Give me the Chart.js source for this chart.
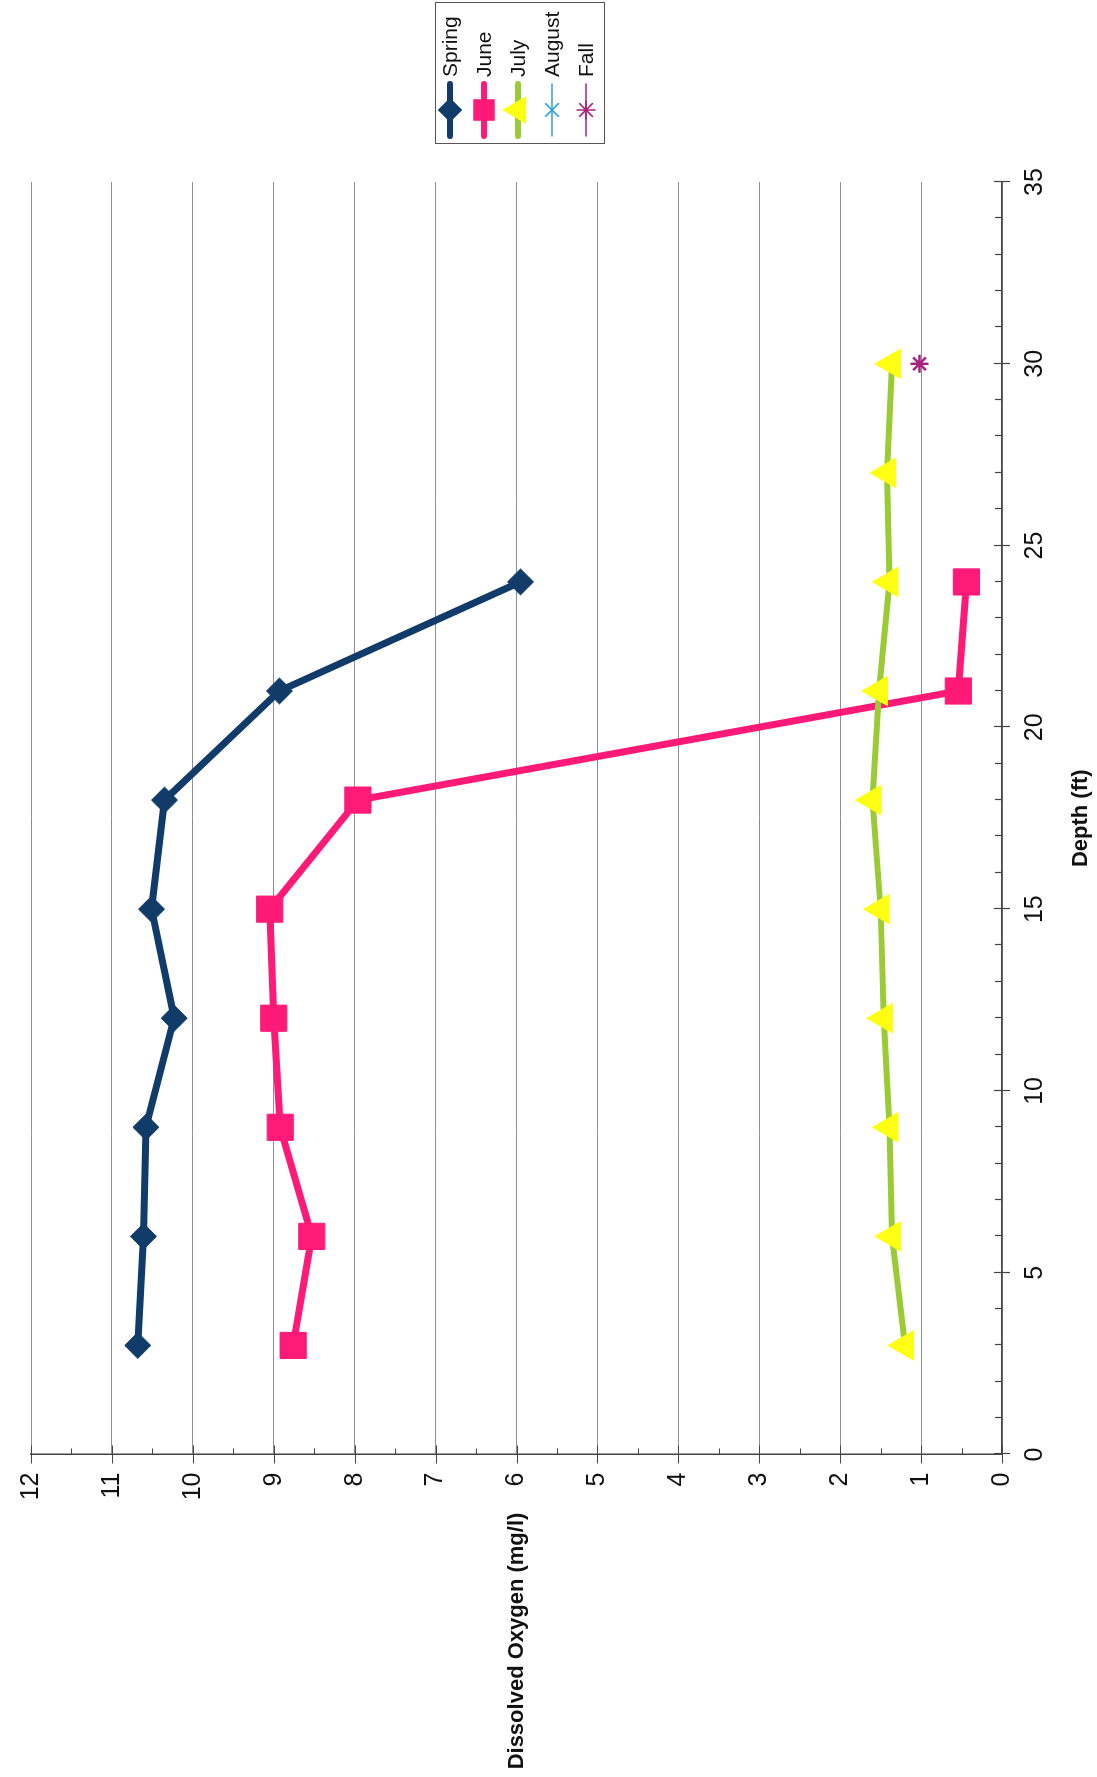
<!DOCTYPE html>
<html>
<head>
<meta charset="utf-8">
<script src="https://cdn.jsdelivr.net/npm/chart.js@4/dist/chart.umd.min.js"></script>
<style>
  html, body { margin: 0; padding: 0; background: #fff; overflow: hidden; }
  body { width: 1097px; height: 1777px; position: relative; }
  /* the scanned chart is turned on its side, so the whole canvas is rotated */
  #wrap {
    position: absolute; left: 0; top: 0;
    width: 1777px; height: 1097px;
    transform-origin: 0 0;
    transform: translateY(1777px) rotate(-90deg);
  }
</style>
</head>
<body>
<div id="wrap"><canvas id="doChart" width="1777" height="1097"></canvas></div>
<script>
// depth (ft) of each sample
const depths = [3, 6, 9, 12, 15, 18, 21, 24, 27, 30];
// dissolved oxygen (mg/l) per season
const springDO = [10.68, 10.61, 10.58, 10.23, 10.51, 10.35, 8.93, 5.95];
const juneDO = [8.76, 8.53, 8.92, 9.0, 9.05, 7.96, 0.54, 0.44];
const julyDO = [1.2, 1.36, 1.39, 1.46, 1.5, 1.6, 1.52, 1.39, 1.42, 1.36];
const augustDO = [];
const fallDepths = [30];
const fallDO = [1.02];

const seriesNames = ['Spring', 'June', 'July', 'August', 'Fall'];
const depthTicks = [0, 5, 10, 15, 20, 25, 30, 35];
const doTicks = [0, 1, 2, 3, 4, 5, 6, 7, 8, 9, 10, 11, 12];

const FONT = '"Liberation Sans", Arial, sans-serif';

function toPoints(xs, ys) {
    return ys.map(function(v, i) { return { x: xs[i], y: v }; });
}

// tick marks, y title and the boxed legend
const extras = {
    id: 'extras',
    beforeDatasetsDraw(chart) {
        const ctx = chart.ctx;
        const a = chart.chartArea;
        const x = chart.scales.x, y = chart.scales.y;
        ctx.save();
        ctx.strokeStyle = '#444';
        ctx.lineWidth = 1.2;
        ctx.beginPath();
        for (let d = 0; d <= 35; d++) {
            const px = Math.round(x.getPixelForValue(d)) + 0.5;
            if (depthTicks.indexOf(d) >= 0) {
                ctx.moveTo(px, a.bottom - 8); ctx.lineTo(px, a.bottom + 8);
            } else {
                ctx.moveTo(px, a.bottom - 7); ctx.lineTo(px, a.bottom);
            }
        }
        for (let v = 0; v <= 12; v += 0.5) {
            const py = Math.round(y.getPixelForValue(v)) + 0.5;
            if (doTicks.indexOf(v) >= 0) {
                ctx.moveTo(a.left - 9, py); ctx.lineTo(a.left + 9, py);
            } else {
                ctx.moveTo(a.left, py); ctx.lineTo(a.left + 6, py);
            }
        }
        ctx.stroke();
        ctx.restore();
    },
    afterDraw(chart) {
        const ctx = chart.ctx;
        const a = chart.chartArea;
        ctx.save();
        // y axis title, written level like the rest of the text
        ctx.fillStyle = '#111';
        ctx.font = 'bold 22px ' + FONT;
        ctx.textAlign = 'center';
        ctx.textBaseline = 'middle';
        ctx.fillText('Dissolved Oxygen (mg/l)', 136, (a.top + a.bottom) / 2);

        // legend
        ctx.strokeStyle = '#555';
        ctx.lineWidth = 1;
        ctx.strokeRect(1633.5, 435.5, 141, 169);
        chart.data.datasets.forEach(function(ds, i) {
            const ry = 450 + i * 34;
            ctx.strokeStyle = ds.borderColor;
            ctx.lineWidth = ds.legendLine;
            ctx.lineCap = 'round';
            ctx.beginPath();
            ctx.moveTo(1641, ry); ctx.lineTo(1693, ry);
            ctx.stroke();
            ctx.fillStyle = ds.pointBackgroundColor;
            ctx.strokeStyle = ds.pointBorderColor;
            Chart.helpers.drawPoint(ctx, {
                pointStyle: ds.pointStyle,
                radius: ds.legendRadius,
                rotation: 0,
                borderWidth: ds.pointBorderWidth
            }, 1667, ry);
            ctx.fillStyle = '#111';
            ctx.font = '21px ' + FONT;
            ctx.textAlign = 'left';
            ctx.textBaseline = 'middle';
            ctx.fillText(ds.label, 1700, ry + 1);
        });
        ctx.restore();
    }
};

var ctxDO = document.getElementById('doChart').getContext('2d');
var doChart = new Chart(ctxDO, {
    type: 'line',
    data: {
        datasets: [{
            label: seriesNames[0],
            data: toPoints(depths, springDO),
            borderColor: '#113c6a',
            borderWidth: 7,
            pointStyle: 'rectRot',
            pointRadius: 13,
            pointBackgroundColor: '#113c6a',
            pointBorderColor: '#113c6a',
            pointBorderWidth: 1,
            legendLine: 6,
            legendRadius: 8,
            order: 5
        }, {
            label: seriesNames[1],
            data: toPoints(depths, juneDO),
            borderColor: '#ff1a78',
            borderWidth: 7,
            pointStyle: 'rect',
            pointRadius: 18.5,
            pointBackgroundColor: '#ff1a78',
            pointBorderColor: '#ff1a78',
            pointBorderWidth: 1,
            legendLine: 6,
            legendRadius: 11,
            order: 4
        }, {
            label: seriesNames[2],
            data: toPoints(depths, julyDO),
            borderColor: '#9acb34',
            borderWidth: 6,
            pointStyle: 'triangle',
            pointRadius: 17,
            pointBackgroundColor: '#ffff14',
            pointBorderColor: '#ffff14',
            pointBorderWidth: 1,
            legendLine: 6,
            legendRadius: 10,
            order: 3
        }, {
            label: seriesNames[3],
            data: toPoints(depths, augustDO),
            borderColor: '#2ba3dc',
            borderWidth: 2,
            pointStyle: 'crossRot',
            pointRadius: 9,
            pointBackgroundColor: '#2ba3dc',
            pointBorderColor: '#2ba3dc',
            pointBorderWidth: 2,
            legendLine: 1.5,
            legendRadius: 9,
            order: 2
        }, {
            label: seriesNames[4],
            data: toPoints(fallDepths, fallDO),
            borderColor: '#a8237f',
            borderWidth: 2,
            pointStyle: 'star',
            pointRadius: 9,
            pointBackgroundColor: '#a8237f',
            pointBorderColor: '#a8237f',
            pointBorderWidth: 2.5,
            legendLine: 1.5,
            legendRadius: 9,
            order: 1
        }]
    },
    options: {
        responsive: false,
        animation: false,
        elements: {
            line: { tension: 0, borderCapStyle: 'round', borderJoinStyle: 'round' }
        },
        layout: { padding: { left: 242.5, right: 182, top: 31, bottom: 0 } },
        plugins: {
            legend: { display: false },
            tooltip: { enabled: false }
        },
        scales: {
            x: {
                type: 'linear',
                position: 'bottom',
                min: 0,
                max: 35,
                grid: { display: false, drawTicks: false },
                border: { display: true, color: '#444', width: 1.5 },
                ticks: {
                    stepSize: 5,
                    padding: 18,
                    color: '#111',
                    font: { family: FONT, size: 25 },
                    maxRotation: 0
                },
                title: {
                    display: true,
                    text: 'Depth (ft)',
                    color: '#111',
                    font: { family: FONT, size: 22, weight: 'bold' },
                    padding: { top: 4, bottom: 3 }
                },
                afterFit: function(scale) { scale.height = 95; }
            },
            y: {
                type: 'linear',
                position: 'left',
                min: 0,
                max: 12,
                grid: { color: '#8f8f8f', lineWidth: 1, drawTicks: false },
                border: { display: true, color: '#444', width: 1.5 },
                ticks: {
                    stepSize: 1,
                    padding: 18,
                    color: '#111',
                    font: { family: FONT, size: 25 }
                },
                afterFit: function(scale) {
                    scale.width = 80;
                    scale.paddingTop = 0;
                    scale.paddingBottom = 0;
                }
            }
        }
    },
    plugins: [extras]
});
</script>
</body>
</html>
